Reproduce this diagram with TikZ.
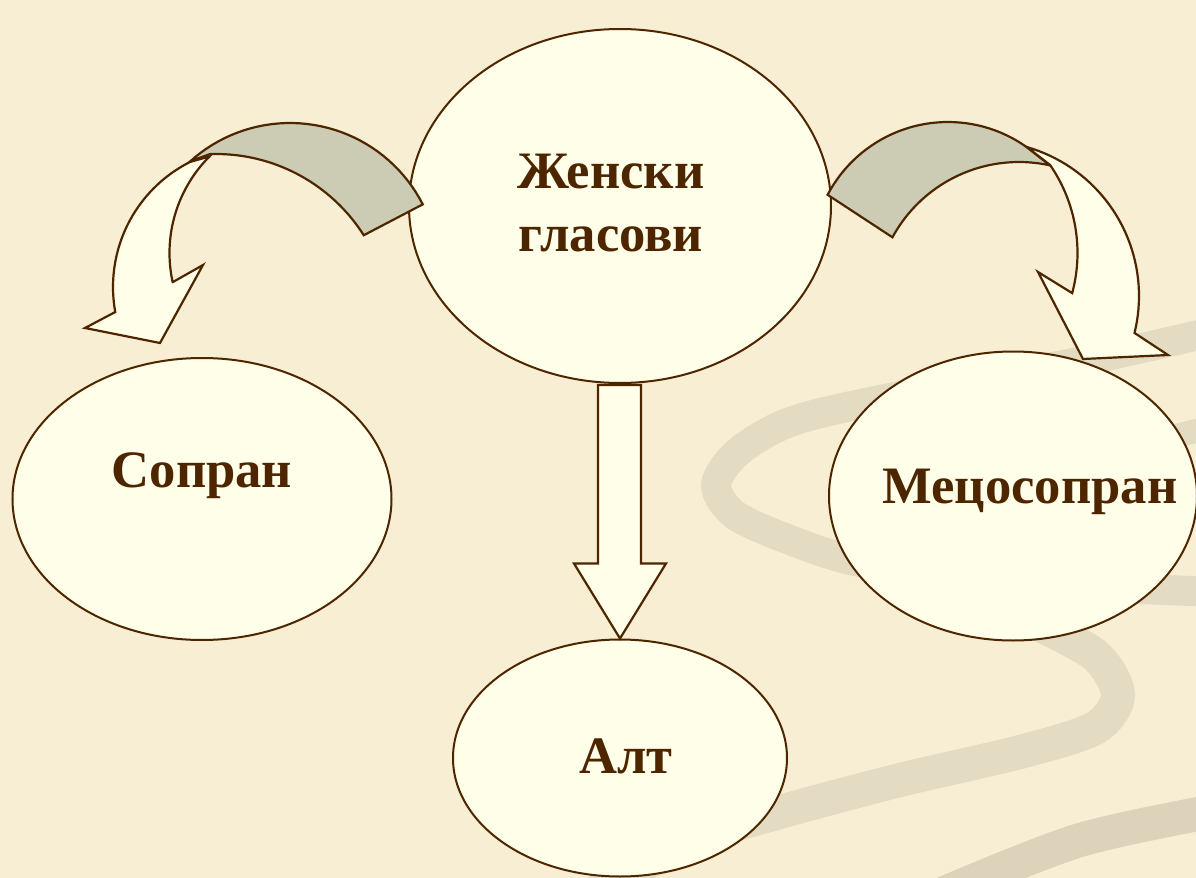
\documentclass[tikz,border=0pt]{standalone}
\usepackage{fontspec}
\setmainfont{Liberation Serif}
\usetikzlibrary{shapes.geometric, calc}

\definecolor{paper}{RGB}{248,238,211}
\definecolor{swirl}{RGB}{228,219,195}
\definecolor{swirldark}{RGB}{221,211,186}
\definecolor{pale}{RGB}{255,254,232}
\definecolor{ink}{RGB}{77,38,0}
\definecolor{sage}{RGB}{204,204,181}

\begin{document}
\begin{tikzpicture}[x=0.5pt, y=-0.5pt,
	voice/.style={ellipse, draw=ink, fill=pale, line width=1pt, inner sep=0pt},
	lbl/.style={text=ink, font=\fontsize{26.3}{31.5}\selectfont\bfseries, align=center},
	front/.style={draw=ink, fill=pale, line width=1.1pt, line join=miter},
	back/.style={draw=ink, fill=sage, line width=1.1pt, line join=miter},
	band/.style={draw=swirl, line cap=round, line width=15pt}]
	\fill[paper] (0,0) rectangle (1196,878);
	\useasboundingbox (0,0) rectangle (1196,878);

	% background swirl
	\begin{scope}
	\clip (0,0) rectangle (1196,878);
	\draw[band] plot[smooth] coordinates {(1220,330) (1083,361) (880,400) (790,422) (738,452) (716,485) (735,515) (790,540) (860,562) (1000,582) (1220,592)};
	\draw[band, line width=12pt] (1220,425) -- (1140,445);
	\draw[band, line width=17pt] plot[smooth] coordinates {(1030,620) (1095,655) (1118,695) (1095,728) (1020,752) (900,780) (780,812) (690,840) (600,890)};
	\draw[band, draw=swirldark, line width=17pt] plot[smooth] coordinates {(1230,808) (1080,840) (940,895)};
	\end{scope}

	% ellipses
	\node[voice, minimum width=211pt, minimum height=177pt] (zh) at (620,206) {};
	\node[voice, minimum width=189.5pt, minimum height=141pt] (sop) at (202,499) {};
	\node[voice, minimum width=184pt, minimum height=144.5pt] (mez) at (1013,496) {};
	\node[voice, minimum width=167pt, minimum height=118.5pt] (alt) at (620,758) {};

	% curved arrow to the left
	\draw[back] plot[domain=27:132, samples=40] ({290+149*cos(\x)}, {272-149*sin(\x)})
		-- plot[domain=92:32.4, samples=40] ({216+175*cos(\x)}, {329-175*sin(\x)}) -- cycle;
	\draw[front] plot[domain=116.7:190.3, samples=40] ({253+140*cos(\x)}, {287-140*sin(\x)})
		-- (85,328) -- (160,343) -- (203,265) -- (173,282)
		-- plot[domain=192.3:135, samples=40] ({306+136.5*cos(\x)}, {253-136.5*sin(\x)}) -- cycle;

	% curved arrow to the right
	\draw[back] plot[domain=152.3:54.6, samples=40] ({948+136*cos(\x)}, {258-136*sin(\x)})
		-- plot[domain=77.6:151.5, samples=40] ({1019+144*cos(\x)}, {306-144*sin(\x)}) -- cycle;
	\draw[front] plot[domain=73.9:-13.8, samples=40] ({984+155*cos(\x)}, {296-155*sin(\x)})
		-- (1168,355) -- (1083,359) -- (1038,272) -- (1072,293)
		-- plot[domain=-15:34.6, samples=40] ({922.5+155*cos(\x)}, {253-155*sin(\x)}) -- cycle;

	% straight arrow down
	\draw[front] ($(zh.south)+(-22,1)$) -- ($(alt.north)+(-22,-75)$) -- ($(alt.north)+(-46,-75)$)
		-- (alt.north) -- ($(alt.north)+(46,-75)$) -- ($(alt.north)+(21,-75)$)
		-- ($(zh.south)+(21,1)$) -- cycle;

	% labels
	\node[lbl] (zht) at (611,203) {Женски\\гласови};
	\node[lbl, anchor=base] (sopt) at (202,487) {Сопран};
	\node[lbl, anchor=base] (mezt) at (1030,503) {Мецосопран};
	\node[lbl, anchor=base] (altt) at (626,773) {Алт};
\end{tikzpicture}
\end{document}
